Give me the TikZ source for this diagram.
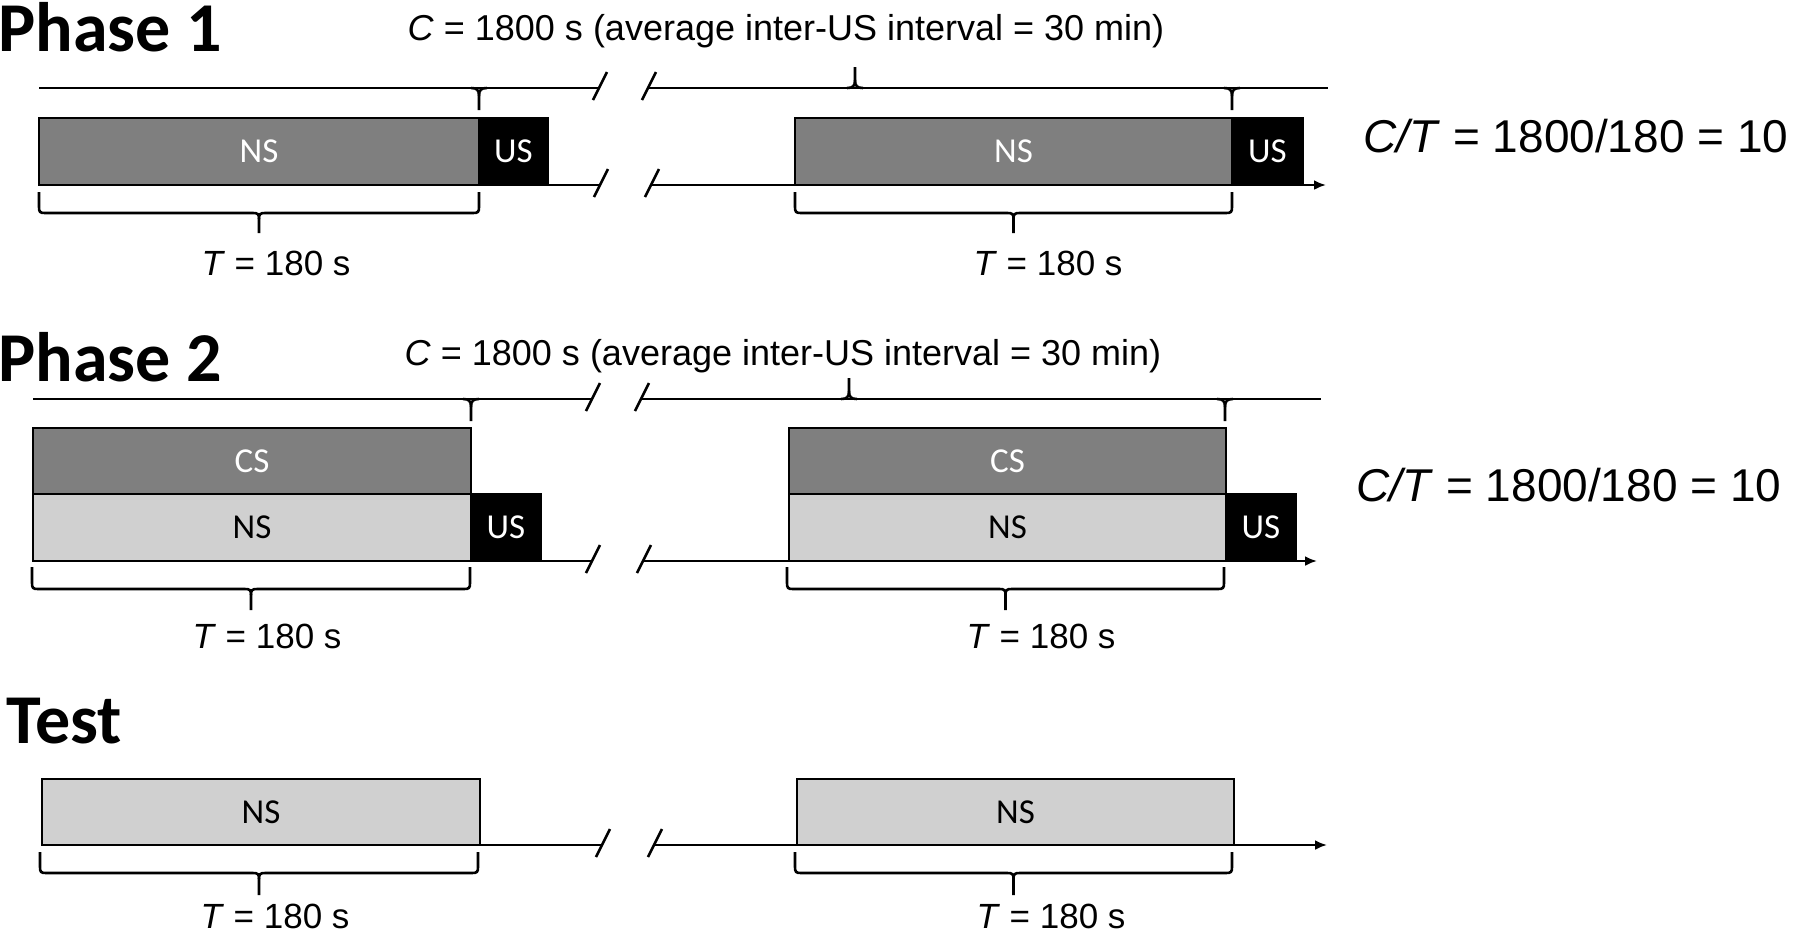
\documentclass[tikz,border=0pt]{standalone}
\usepackage{fontspec}
\setmainfont{Liberation Sans}
\newfontfamily\calfont{Carlito}
\usetikzlibrary{arrows.meta}
\definecolor{dgray}{HTML}{7F7F7F}
\definecolor{lgray}{HTML}{D0D0D0}
\newcommand{\mybrace}[5]{%
  \pgfmathsetmacro\xm{(#1+#2)/2}%
  \draw[brc] (#1,#3) -- (#1,#4-6) .. controls (#1,#4-1) and (#1+1,#4) .. (#1+6,#4) -- (\xm-6,#4) .. controls (\xm-1,#4) and (\xm,#4+1) .. (\xm,#4+6) -- (\xm,#5);
  \draw[brc] (#2,#3) -- (#2,#4-6) .. controls (#2,#4-1) and (#2-1,#4) .. (#2-6,#4) -- (\xm+6,#4) .. controls (\xm+1,#4) and (\xm,#4+1) .. (\xm,#4+6);
}
\newcommand{\cuspdn}[2]{%
  \draw[brc] (#1-8,#2) .. controls (#1-2,#2) and (#1,#2+2) .. (#1,#2+8) -- (#1,#2+22);
  \draw[brc] (#1+8,#2) .. controls (#1+2,#2) and (#1,#2+2) .. (#1,#2+8);
}
\newcommand{\cuspup}[2]{%
  \draw[brc] (#1-8,#2) .. controls (#1-2,#2) and (#1,#2-2) .. (#1,#2-8) -- (#1,#2-21);
  \draw[brc] (#1+8,#2) .. controls (#1+2,#2) and (#1,#2-2) .. (#1,#2-8);
}
\newcommand{\brk}[2]{\draw[brc] (#1-7,#2+14) -- (#1+7,#2-14);}
\begin{document}
\begin{tikzpicture}[x=0.5pt,y=-0.5pt,
  ln/.style={line width=1.4pt},
  brc/.style={line width=1.3pt},
  ax/.style={line width=1.4pt,-{Latex[length=6pt,width=5pt]}},
  boxbase/.style={draw=black,line width=1.2pt,inner sep=0pt,outer sep=0pt,font=\calfont\fontsize{17.5}{20}\selectfont},
  dbox/.style={boxbase,fill=dgray,text=white},
  lbox/.style={boxbase,fill=lgray,text=black},
  usbox/.style={boxbase,fill=black,text=white},
  ttl/.style={anchor=base west,inner sep=0pt,font=\calfont\bfseries\fontsize{35}{40}\selectfont},
  clab/.style={anchor=base,inner sep=0pt,font=\fontsize{18}{21}\selectfont},
  tlab/.style={anchor=base,inner sep=0pt,font=\fontsize{17.5}{21}\selectfont},
  ctlab/.style={anchor=base,inner sep=0pt,font=\fontsize{23}{27}\selectfont}]
\useasboundingbox (0,0) rectangle (1800,934);
\fill[white] (0,0) rectangle (1800,934);

% ---------------- Phase 1 ----------------
\node[ttl] (p1) at (-2,51) {Phase 1};
\node[clab] (c1) at (786,40) {\textit{C} = 1800 s (average inter-US interval = 30 min)};
\coordinate (t1l) at (39,88);
\coordinate (t1sl) at (600,88);
\coordinate (t1sr) at (649,88);
\coordinate (t1r) at (1328,88);
\draw[brc] (t1l) -- (t1sl);
\draw[brc] (t1sr) -- (t1r);
\brk{600}{86}
\brk{649}{86}
\cuspdn{479}{88}
\cuspup{855}{88}
\cuspdn{1232}{88}

\coordinate (a1sl) at (601,185);
\coordinate (a1sr) at (652,185);
\coordinate (a1e) at (1326,185);
\node[dbox,minimum width=220pt,minimum height=33.5pt] (ns1a) at (259,151.5) {NS};
\node[usbox,minimum width=34.5pt,minimum height=33.5pt] (us1a) at (513.5,151.5) {US};
\draw[ln] (us1a.south east) -- (a1sl);
\draw[ax] (a1sr) -- (a1e);
\brk{601}{183}
\brk{652}{183}
\node[dbox,minimum width=218.5pt,minimum height=33.5pt] (ns1b) at (1013.5,151.5) {NS};
\node[usbox,minimum width=35.5pt,minimum height=33.5pt] (us1b) at (1267.5,151.5) {US};
\mybrace{39}{479}{192}{213}{233}
\mybrace{795}{1232}{192}{213}{233}
\node[tlab] (T1a) at (276,275) {\textit{T} = 180 s};
\node[tlab] (T1b) at (1048,275) {\textit{T} = 180 s};
\node[ctlab] (ct1) at (1576,152) {\textit{C/T} = 1800/180 = 10};

% ---------------- Phase 2 ----------------
\node[ttl] (p2) at (-2,381) {Phase 2};
\node[clab] (c2) at (783,365) {\textit{C} = 1800 s (average inter-US interval = 30 min)};
\coordinate (t2l) at (33,399);
\coordinate (t2sl) at (593,399);
\coordinate (t2sr) at (642,399);
\coordinate (t2r) at (1321,399);
\draw[brc] (t2l) -- (t2sl);
\draw[brc] (t2sr) -- (t2r);
\brk{593}{397}
\brk{642}{397}
\cuspdn{471}{399}
\cuspup{849}{399}
\cuspdn{1225}{399}

\coordinate (a2sl) at (593,561);
\coordinate (a2sr) at (644,561);
\coordinate (a2e) at (1317,561);
\node[dbox,minimum width=219pt,minimum height=33pt] (cs2a) at (252,461) {CS};
\node[lbox,minimum width=219pt,minimum height=33.5pt] (ns2a) at (252,527.5) {NS};
\node[usbox,minimum width=35pt,minimum height=33.5pt] (us2a) at (506,527.5) {US};
\draw[ln] (us2a.south east) -- (a2sl);
\draw[ax] (a2sr) -- (a2e);
\brk{593}{559}
\brk{644}{559}
\node[dbox,minimum width=218.5pt,minimum height=33pt] (cs2b) at (1007.5,461) {CS};
\node[lbox,minimum width=218.5pt,minimum height=33.5pt] (ns2b) at (1007.5,527.5) {NS};
\node[usbox,minimum width=35pt,minimum height=33.5pt] (us2b) at (1261,527.5) {US};
\mybrace{32}{470}{567}{589}{610}
\mybrace{787}{1224}{567}{589}{610}
\node[tlab] (T2a) at (267,648) {\textit{T} = 180 s};
\node[tlab] (T2b) at (1041,648) {\textit{T} = 180 s};
\node[ctlab] (ct2) at (1569,501) {\textit{C/T} = 1800/180 = 10};

% ---------------- Test ----------------
\node[ttl] (p3) at (6,743) {Test};
\coordinate (a3sl) at (603,845);
\coordinate (a3sr) at (655,845);
\coordinate (a3e) at (1327,845);
\node[lbox,minimum width=219pt,minimum height=33pt] (ns3a) at (261,812) {NS};
\draw[ln] (ns3a.south east) -- (a3sl);
\draw[ax] (a3sr) -- (a3e);
\brk{603}{843}
\brk{655}{843}
\node[lbox,minimum width=218.5pt,minimum height=33pt] (ns3b) at (1015.5,812) {NS};
\mybrace{40}{478}{852}{873}{895}
\mybrace{795}{1232}{852}{873}{895}
\node[tlab] (T3a) at (275,928) {\textit{T} = 180 s};
\node[tlab] (T3b) at (1051,928) {\textit{T} = 180 s};
\end{tikzpicture}
\end{document}
